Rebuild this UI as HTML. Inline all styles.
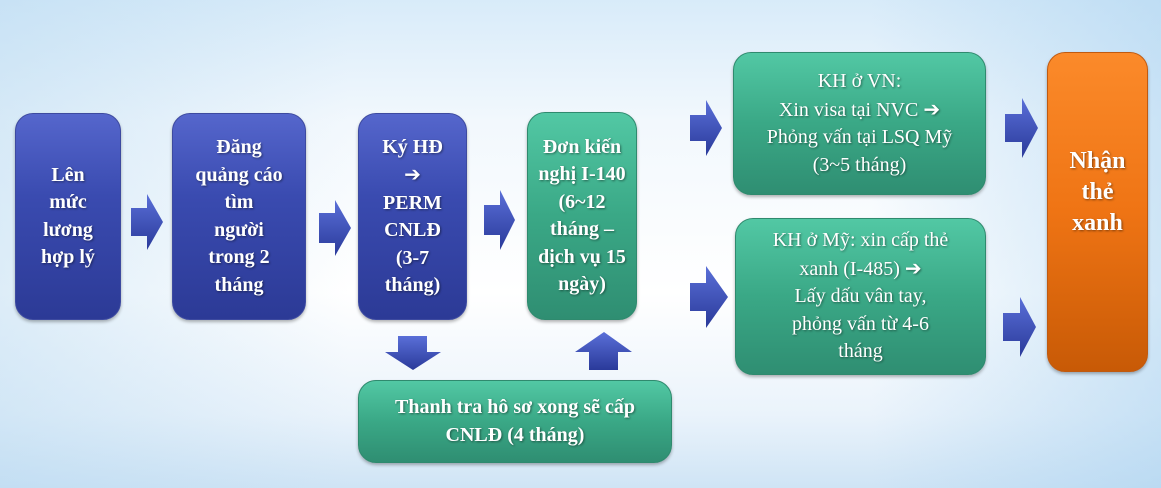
<!DOCTYPE html>
<html><head><meta charset="utf-8"><style>
html,body{margin:0;padding:0}
body{width:1161px;height:488px;position:relative;overflow:hidden;
background:linear-gradient(180deg,#d8ebf9 0%,#f2f8fd 25%,#ffffff 60%,#eaf3fb 85%,#cfe4f5 100%);}
.bg2{position:absolute;inset:0;background:linear-gradient(90deg,rgba(180,215,240,.45) 0%,rgba(255,255,255,0) 30%,rgba(255,255,255,0) 75%,rgba(170,210,240,.55) 100%)}
.b{position:absolute;display:flex;align-items:center;justify-content:center;text-align:center;color:#fff;
font-family:"Liberation Serif",serif;font-weight:bold;font-size:20px;line-height:27.5px;border-radius:18px;box-sizing:border-box;
text-shadow:1px 1px 2px rgba(0,0,0,.45);box-shadow:0 2px 3px rgba(0,0,0,.3)}
.blue{background:linear-gradient(180deg,#5566cc 0%,#3a4bb0 40%,#2c3a96 100%);border:1px solid #3d4aa0}
.green{background:linear-gradient(180deg,#52c8a4 0%,#3aa886 50%,#2f8e72 100%);border:1px solid #2f8a6e}
.orange{background:linear-gradient(180deg,#fb8a2a 0%,#ef7414 50%,#c85a06 100%);border:1px solid #c05a10;font-size:24px;line-height:31px}
.ar{font-family:"DejaVu Sans",sans-serif;font-size:20px}
svg{position:absolute}
</style></head><body><div class="bg2"></div>
<div class="b blue" style="left:15px;top:113px;width:106px;height:207px"><div>Lên<br>mức<br>lương<br>hợp lý</div></div>
<div class="b blue" style="left:172px;top:113px;width:134px;height:207px"><div>Đăng<br>quảng cáo<br>tìm<br>người<br>trong 2<br>tháng</div></div>
<div class="b blue" style="left:358px;top:113px;width:109px;height:207px"><div>Ký HĐ<br><span class="ar">➔</span><br>PERM<br>CNLĐ<br>(3-7<br>tháng)</div></div>
<div class="b green" style="left:527px;top:112px;width:110px;height:208px"><div>Đơn kiến<br>nghị I-140<br>(6~12<br>tháng –<br>dịch vụ 15<br>ngày)</div></div>
<div class="b green" style="left:733px;top:52px;width:253px;height:143px;font-weight:normal"><div>KH ở VN:<br>Xin visa tại NVC <span class="ar">➔</span><br>Phỏng vấn tại LSQ Mỹ<br>(3~5 tháng)</div></div>
<div class="b green" style="left:735px;top:218px;width:251px;height:157px;font-weight:normal"><div>KH ở Mỹ: xin cấp thẻ<br>xanh (I-485) <span class="ar">➔</span><br>Lấy dấu vân tay,<br>phỏng vấn từ 4-6<br>tháng</div></div>
<div class="b orange" style="left:1047px;top:52px;width:101px;height:320px;padding-bottom:40px"><div>Nhận<br>thẻ<br>xanh</div></div>
<div class="b green" style="left:358px;top:380px;width:314px;height:83px"><div>Thanh tra hô sơ xong sẽ cấp<br>CNLĐ (4 tháng)</div></div>
<svg width="1161" height="488" style="left:0;top:0">
<defs><linearGradient id="ag" x1="0" y1="0" x2="0" y2="1"><stop offset="0" stop-color="#5a6fd8"/><stop offset="1" stop-color="#2a3a9a"/></linearGradient></defs>
<g fill="url(#ag)">
<polygon points="131,208 147,208 147,194 163,222 147,250 147,236 131,236"/>
<polygon points="319,213 335,213 335,200 351,228 335,256 335,243 319,243"/>
<polygon points="484,205 500,205 500,190 515,220 500,250 500,235 484,235"/>
<polygon points="690,115 706,115 706,100 722,128 706,156 706,141 690,141"/>
<polygon points="690,283 706,283 706,266 728,297 706,328 706,311 690,311"/>
<polygon points="1005,114 1022,114 1022,98 1038,128 1022,158 1022,142 1005,142"/>
<polygon points="1003,313 1020,313 1020,297 1036,327 1020,357 1020,341 1003,341"/>
<polygon points="398,336 427,336 427,352 441,352 413,370 385,352 398,352"/>
<polygon points="589,370 618,370 618,352 632,352 604,332 575,352 589,352"/>
</g></svg>
</body></html>
